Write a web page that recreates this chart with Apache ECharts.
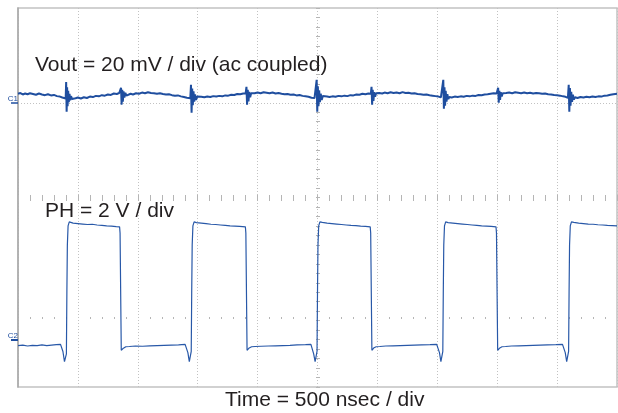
<!DOCTYPE html>
<html>
<head>
<meta charset="utf-8">
<script src="https://cdn.jsdelivr.net/npm/echarts@6/dist/echarts.min.js"></script>
<style>
  html, body { margin: 0; padding: 0; background: #fff; }
  #chart { width: 618px; height: 413px; }
</style>
</head>
<body>
<div id="chart"></div>
<script>
// time in ns, Vout in mV (20 mV / div, ac coupled), PH in V (2 V / div)
var voutTrace = [
  [0,3.8],[20,4.1],[40,3.5],[60,3.9],[80,3.6],[100,4.0],[125,3.7],[150,3.4],[175,3.9],[200,3.5],
  [225,3.2],[250,3.6],[275,3.1],[300,3.3],[325,2.8],[350,2.6],[370,2.2],[385,2.0],[398,1.8],
  [402,8.8],[406,-3.8],[410,6.5],[414,-1.5],[419,5.0],[424,0.2],[430,3.8],[436,1.0],[443,2.8],[450,1.6],
  [465,2.3],[480,1.9],[500,2.2],[525,1.8],[550,2.3],[575,2.0],[600,2.6],[625,2.4],[650,2.9],[675,2.7],
  [700,3.2],[725,3.0],[750,3.5],[775,3.3],[800,3.9],[825,3.7],[845,4.1],
  [855,3.6],[860,6.3],[865,-0.8],[870,5.5],[875,0.5],[881,4.8],[888,2.2],[896,4.2],[905,3.0],
  [920,3.4],[940,3.8],[960,3.5],[985,4.0],[1010,3.8],[1035,4.3],[1060,4.0],[1085,4.4],[1110,4.1],
  [1135,4.0],[1160,3.8],[1185,4.0],[1210,3.7],[1235,3.5],[1260,3.6],[1285,3.2],[1310,3.0],[1335,3.1],
  [1360,2.7],[1385,2.4],[1410,2.1],[1438,1.9],
  [1444,7.6],[1449,-4.2],[1454,6.0],[1459,-1.0],[1465,4.8],[1471,0.5],[1478,3.5],[1486,1.2],[1495,2.6],
  [1510,2.2],[1530,2.5],[1555,2.3],[1580,2.6],[1605,2.4],[1630,2.8],[1655,2.6],[1680,2.9],[1705,2.7],
  [1730,3.1],[1755,3.0],[1780,3.4],[1805,3.3],[1830,3.7],[1855,3.6],[1880,3.9],[1900,4.0],
  [1907,6.7],[1912,-0.8],[1918,5.5],[1924,0.6],[1930,4.6],[1938,2.3],[1946,4.0],[1955,3.3],
  [1975,4.0],[2000,4.3],[2025,4.0],[2050,4.4],[2075,4.2],[2100,4.0],[2125,4.3],[2150,3.9],[2175,4.1],
  [2200,3.8],[2225,3.6],[2250,3.7],[2275,3.4],[2300,3.5],[2325,3.1],[2350,3.3],[2375,2.9],[2400,2.7],
  [2425,2.5],[2450,2.1],[2475,2.0],[2488,1.8],
  [2493,9.7],[2498,-3.8],[2503,7.0],[2508,-1.5],[2514,5.2],[2520,0.3],[2527,3.8],[2535,1.2],[2544,2.8],
  [2560,2.3],[2580,2.6],[2600,2.4],[2625,2.7],[2650,2.5],[2675,2.9],[2700,2.7],[2725,3.0],[2750,2.8],
  [2775,3.2],[2800,3.1],[2825,3.5],[2850,3.4],[2875,3.8],[2900,3.6],[2925,3.9],[2945,3.8],
  [2951,6.7],[2956,-0.8],[2961,5.5],[2967,0.8],[2973,4.5],[2981,2.5],[2989,4.0],[2998,3.6],
  [3015,4.1],[3040,3.9],[3060,4.3],[3085,4.0],[3110,4.4],[3135,4.1],[3160,4.3],[3185,4.0],[3210,4.5],
  [3235,4.1],[3260,4.2],[3285,3.9],[3310,4.0],[3335,3.7],[3360,3.6],[3385,3.4],[3410,3.5],[3435,3.2],
  [3460,3.0],[3485,2.8],[3510,2.6],[3530,2.3],[3545,2.2],
  [3550,9.7],[3555,-2.5],[3560,6.5],[3565,-1.2],[3570,5.0],[3577,0.5],[3584,3.6],[3592,1.5],[3600,2.4],
  [3620,2.2],[3645,2.6],[3670,2.4],[3695,2.7],[3720,2.5],[3745,2.9],[3770,2.7],[3795,3.0],[3820,2.9],
  [3845,3.3],[3870,3.2],[3895,3.5],[3920,3.6],[3945,3.8],[3970,4.0],[3995,3.9],
  [4008,6.3],[4013,0.0],[4018,5.0],[4024,1.2],[4030,4.5],[4038,2.6],[4046,4.0],[4055,3.4],
  [4075,4.1],[4100,4.3],[4125,4.0],[4150,4.4],[4175,4.2],[4200,4.0],[4225,4.3],[4250,4.0],[4275,4.2],
  [4300,3.9],[4325,4.1],[4350,4.0],[4375,3.8],[4400,3.9],[4425,3.6],[4450,3.5],[4475,3.3],[4500,3.2],
  [4525,3.0],[4550,2.7],[4570,2.5],[4590,2.1],
  [4597,7.6],[4602,-3.8],[4607,6.2],[4612,-1.2],[4618,4.6],[4625,0.4],[4632,3.4],[4640,1.4],[4650,2.3],
  [4670,2.0],[4695,2.4],[4720,2.2],[4745,2.5],[4770,2.3],[4795,2.6],[4820,2.4],[4845,2.7],[4870,2.6],
  [4895,3.0],[4920,3.1],[4945,3.4],[4970,3.6],[5000,3.8]
]

var phTrace = [
  [0,-0.25],[40,-0.23],[80,-0.27],[120,-0.24],[160,-0.25],[200,-0.22],[240,-0.25],[280,-0.23],
  [320,-0.21],[355,-0.2],[365,-0.24],[375,-0.5],[388,-0.93],[398,-0.9],[404,-0.6],
  [408,2.0],[412,4.0],[418,4.8],[428,4.97],[440,4.95],[460,4.92],[500,4.9],[540,4.88],[580,4.86],
  [620,4.87],[660,4.84],[700,4.82],[740,4.8],[780,4.79],[820,4.77],[848,4.76],
  [852,4.5],[858,1.5],[862,-0.45],[870,-0.42],[880,-0.36],[900,-0.3],[930,-0.29],[980,-0.27],
  [1040,-0.28],[1100,-0.26],[1160,-0.25],[1220,-0.24],[1280,-0.23],[1340,-0.22],[1395,-0.2],
  [1408,-0.25],[1418,-0.55],[1430,-0.93],[1440,-0.88],[1446,-0.5],
  [1450,2.0],[1454,4.0],[1460,4.8],[1470,4.97],[1490,4.94],[1530,4.92],[1570,4.9],[1610,4.87],
  [1650,4.86],[1690,4.84],[1730,4.82],[1770,4.8],[1810,4.79],[1850,4.78],[1898,4.76],
  [1902,4.5],[1908,1.5],[1912,-0.45],[1920,-0.42],[1930,-0.35],[1950,-0.3],[1980,-0.29],[2030,-0.28],
  [2090,-0.27],[2150,-0.26],[2210,-0.25],[2270,-0.24],[2330,-0.22],[2400,-0.21],[2445,-0.2],
  [2458,-0.26],[2468,-0.6],[2480,-0.93],[2490,-0.9],[2496,-0.5],
  [2500,2.0],[2504,4.0],[2510,4.8],[2520,4.97],[2540,4.95],[2580,4.92],[2620,4.9],[2660,4.88],
  [2700,4.86],[2740,4.84],[2780,4.82],[2820,4.81],[2860,4.79],[2900,4.78],[2940,4.76],
  [2944,4.5],[2950,1.5],[2954,-0.45],[2962,-0.42],[2972,-0.34],[2990,-0.3],[3020,-0.29],[3070,-0.27],
  [3130,-0.26],[3190,-0.25],[3250,-0.24],[3310,-0.23],[3370,-0.22],[3440,-0.21],[3495,-0.2],
  [3508,-0.25],[3518,-0.55],[3530,-0.93],[3540,-0.9],[3546,-0.5],
  [3550,2.0],[3554,4.0],[3560,4.8],[3570,4.97],[3590,4.94],[3630,4.92],[3670,4.9],[3710,4.88],
  [3750,4.86],[3790,4.84],[3830,4.82],[3870,4.8],[3910,4.79],[3950,4.78],[3990,4.76],
  [3994,4.5],[4000,1.5],[4004,-0.45],[4012,-0.42],[4022,-0.35],[4040,-0.3],[4070,-0.29],[4120,-0.27],
  [4180,-0.26],[4240,-0.25],[4300,-0.24],[4360,-0.23],[4420,-0.22],[4490,-0.21],[4545,-0.2],
  [4558,-0.25],[4568,-0.55],[4580,-0.93],[4590,-0.9],[4596,-0.5],
  [4600,2.0],[4604,4.0],[4610,4.8],[4620,4.97],[4640,4.95],[4680,4.92],[4720,4.9],[4760,4.88],
  [4800,4.87],[4840,4.85],[4880,4.84],[4920,4.82],[4960,4.81],[5000,4.8]
]

var traceColor = '#1f4e9f'
var gridColor = '#c2c2c2'
var tickColor = '#b5b5b5'
var textStyle = { fontSize: 21, fontWeight: 'normal', color: '#231f20', fontFamily: 'Liberation Sans' }

var myChart = echarts.init(document.getElementById('chart'))

// axes used only to draw the little scope graticule ticks
function tickAxis(extra) {
  return Object.assign({
    type: 'value',
    min: 0,
    max: 5000,
    interval: 500,
    axisLine: { show: false },
    axisLabel: { show: false },
    splitLine: { show: false },
    axisTick: { show: true, length: 3, lineStyle: { color: tickColor, width: 1 } },
    minorTick: { show: true, splitNumber: 5, length: 3, lineStyle: { color: tickColor, width: 1 } },
  }, extra)
}
function tickAxisY(extra) {
  return Object.assign({
    type: 'value',
    min: -4,
    max: 4,
    interval: 1,
    position: 'left',
    offset: -300,
    axisLine: { show: false },
    axisLabel: { show: false },
    splitLine: { show: false },
    axisTick: { show: true, length: 2, lineStyle: { color: tickColor, width: 1 } },
    minorTick: { show: true, splitNumber: 5, length: 2, lineStyle: { color: tickColor, width: 1 } },
  }, extra)
}

var option = {
  animation: false,
  backgroundColor: '#ffffff',
  title: [
    { text: 'Vout = 20 mV / div (ac coupled)', left: 35, top: 55, padding: 0, textStyle: textStyle },
    { text: 'PH = 2 V / div', left: 45, top: 201, padding: 0, textStyle: textStyle },
    { text: 'Time = 500 nsec / div', left: 225, top: 390, padding: 0, textStyle: textStyle },
  ],
  grid: {
    left: 18,
    top: 8,
    width: 599,
    height: 379,
    show: true,
    borderColor: gridColor,
    borderWidth: 1.5,
  },
  xAxis: [
    {
      type: 'value',
      min: 0,
      max: 5000,
      interval: 500,
      axisLine: { show: false },
      axisTick: { show: false },
      axisLabel: { show: false },
      splitLine: { show: true, lineStyle: { color: gridColor, width: 1, type: [1, 2] } },
    },
    // center horizontal line ticks (both sides)
    tickAxis({ position: 'top', offset: -190 }),
    tickAxis({ position: 'top', offset: -190, axisTick: { show: true, inside: true, length: 3, lineStyle: { color: tickColor } } }),
    // dotted marker rows
    tickAxis({ position: 'top', offset: -71, axisTick: { show: false }, minorTick: { show: true, splitNumber: 5, length: 2, lineStyle: { color: tickColor } } }),
    tickAxis({ position: 'bottom', offset: -70, axisTick: { show: false }, minorTick: { show: true, splitNumber: 5, length: 2, lineStyle: { color: tickColor } } }),
  ],
  yAxis: [
    {
      type: 'value',
      min: -120,
      max: 40,
      interval: 20,
      position: 'left',
      axisLine: { show: true, lineStyle: { color: '#a9a9a9', width: 1.5 } },
      axisTick: { show: true, customValues: [0], length: 7, lineStyle: { color: traceColor, width: 1.5 } },
      axisLabel: {
        show: true, customValues: [0], formatter: function () { return 'C1' },
        fontSize: 8, color: traceColor, margin: 0, verticalAlign: 'bottom', fontFamily: 'Liberation Sans',
      },
      splitLine: { show: true, lineStyle: { color: gridColor, width: 1, type: [1, 2] } },
    },
    {
      type: 'value',
      min: -2,
      max: 14,
      interval: 2,
      position: 'left',
      axisLine: { show: false },
      axisTick: { show: true, customValues: [0], length: 7, lineStyle: { color: traceColor, width: 2 } },
      axisLabel: {
        show: true, customValues: [0], formatter: function () { return 'C2' },
        fontSize: 8, color: traceColor, margin: 0, verticalAlign: 'bottom', fontFamily: 'Liberation Sans',
      },
      splitLine: { show: false },
    },
    // center vertical line ticks
    tickAxisY({}),
    tickAxisY({ axisTick: { show: true, inside: true, length: 2, lineStyle: { color: tickColor } } }),
  ],
  series: [
    {
      name: 'Vout',
      type: 'line',
      xAxisIndex: 0,
      yAxisIndex: 0,
      showSymbol: false,
      lineStyle: { color: traceColor, width: 2 },
      data: voutTrace,
    },
    {
      name: 'PH',
      type: 'line',
      xAxisIndex: 0,
      yAxisIndex: 1,
      showSymbol: false,
      lineStyle: { color: '#2858a8', width: 1.2 },
      data: phTrace,
    },
  ],
}

option && myChart.setOption(option)
</script>
</body>
</html>
